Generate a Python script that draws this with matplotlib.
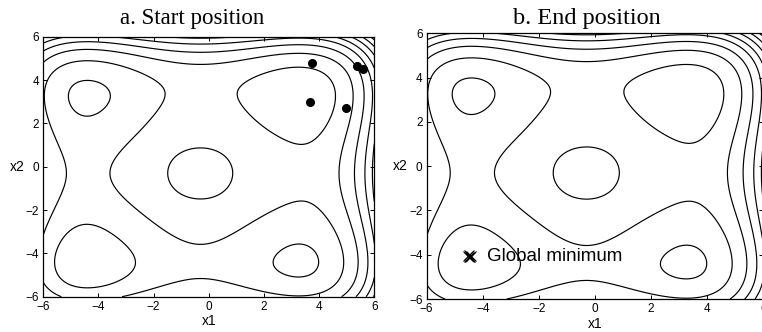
import numpy as np
import matplotlib
matplotlib.use("Agg")
import matplotlib.pyplot as plt

# test surface: separable quartic per axis (critical points below),
# a well in the middle and a low ridge around it
crit_pts = [-4.4, -0.3, 3.25]      # minimum, maximum, minimum of the 1-D part
well_depth = 77.5
well_width = 1.1
ridge_height = 3.5
ridge_radius = 3.3
ridge_width = 0.6
levels = [-98, -52, 0, 49, 97, 140, 186, 232, 278]

# particles
start_x1 = [3.73, 3.67, 4.96, 5.38, 5.58]
start_x2 = [4.80, 2.97, 2.72, 4.65, 4.49]
end_x1 = [-4.52, -4.46, -4.49, -4.42, -4.50]
end_x2 = [-4.05, -4.10, -4.00, -4.07, -4.12]

ticks = [-6, -4, -2, 0, 2, 4, 6]

g = np.poly1d(np.polyint(np.poly(crit_pts)))
t = np.linspace(-6, 6, 500)
X1, X2 = np.meshgrid(t, t)
m = crit_pts[1]
R = np.sqrt((X1 - m) ** 2 + (X2 - m) ** 2)
F = (g(X1) + g(X2)
     - well_depth * np.exp(-R ** 2 / (2 * well_width ** 2))
     + ridge_height * np.exp(-(R - ridge_radius) ** 2 / (2 * ridge_width ** 2)))

plt.rcParams['font.family'] = ['Liberation Sans', 'DejaVu Sans']
fig = plt.figure(figsize=(7.62, 3.32), dpi=100)
W, H = 762.0, 332.0
ax1 = fig.add_axes([43.3 / W, 1 - 296.7 / H, 331 / W, 260 / H])
ax2 = fig.add_axes([426.7 / W, 1 - 299 / H, 336.6 / W, 265.7 / H])

for ax in (ax1, ax2):
    ax.contour(X1, X2, F, levels=levels, colors='k', linewidths=0.85, linestyles='solid')
    ax.set_xlim(-6, 6)
    ax.set_ylim(-6, 6)
    ax.set_xticks(ticks)
    ax.set_yticks(ticks)
    ax.tick_params(direction='in', length=3, width=0.7, labelsize=8.5, top=True, right=True, pad=3)
    for s in ax.spines.values():
        s.set_linewidth(0.9)
    ax.set_xlabel('x1', fontsize=10, labelpad=1)
    ax.set_ylabel('x2', fontsize=10, rotation=0, va='center', ha='center')
    ax.yaxis.set_label_coords(-0.078, 0.5)

ax1.plot(start_x1, start_x2, 'o', color='k', markersize=5.5)
ax2.plot(end_x1, end_x2, 'x', color='k', markersize=7, mew=0.8)
ax2.text(-3.86, -4.1, 'Global minimum', fontsize=13.5, va='center', ha='left')

fig.text(192.5 / W, 1 - 24 / H, 'a. Start position', family='Liberation Serif', fontsize=16.5, ha='center', va='baseline')
fig.text(586.7 / W, 1 - 24 / H, 'b. End position', family='Liberation Serif', fontsize=17.5, ha='center', va='baseline')

fig.savefig('out.png', dpi=100)
